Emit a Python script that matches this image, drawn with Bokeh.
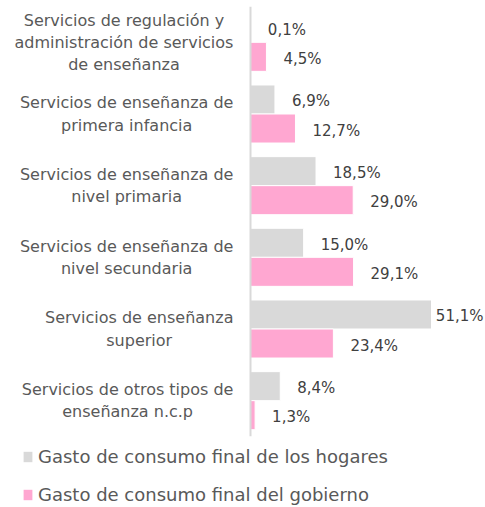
from bokeh.plotting import figure
from bokeh.models import ColumnDataSource, FactorRange, Range1d, Legend, LegendItem, Span
from bokeh.layouts import column
from bokeh.transform import dodge
from bokeh.core.properties import value
from bokeh.embed import file_html
from bokeh.resources import INLINE

categories = [
    "Servicios de regulación y\nadministración de servicios\nde enseñanza",
    "Servicios de enseñanza de\nprimera infancia",
    "Servicios de enseñanza de\nnivel primaria",
    "Servicios de enseñanza de\nnivel secundaria",
    "Servicios de enseñanza\nsuperior",
    "Servicios de otros tipos de\nenseñanza n.c.p",
]
hogares = [0.1, 6.9, 18.5, 15.0, 51.1, 8.4]
gobierno = [4.5, 12.7, 29.0, 29.1, 23.4, 1.3]
series_names = ["Gasto de consumo final de los hogares", "Gasto de consumo final del gobierno"]

FONT = "DejaVu Sans"
FONT_FILE = "DejaVuSans.ttf"
GRAY = "#D9D9D9"
PINK = "#FFA7D1"
CAT_SIZE = 16
VAL_SIZE = 15
LEG_SIZE = 18

W = 485
H1 = 440
FRAME_TOP = 6
FRAME_H = 430
AXIS_PX = 250          # screen x of the value axis inside the figure
PX_PER_PCT = 3.542
LABEL_GAP = 17         # px between bar end and its value label
CAT_GAP = 17           # px between category text and the axis

_fonts = {}
def text_w(s, size):
    try:
        from PIL import ImageFont
        if size not in _fonts:
            _fonts[size] = ImageFont.truetype(FONT_FILE, size)
        return _fonts[size].getlength(s)
    except Exception:
        return len(s) * 0.6 * size

def fmt(v):
    return f"{v:.1f}%".replace(".", ",")

x_min = -AXIS_PX / PX_PER_PCT
x_max = (W - AXIS_PX) / PX_PER_PCT

def label_pos(vals):
    xs = []
    for v in vals:
        w = text_w(fmt(v), VAL_SIZE)
        px = min(v * PX_PER_PCT + LABEL_GAP, (W - AXIS_PX) - w - 2)
        xs.append(px / PX_PER_PCT)
    return xs

src = ColumnDataSource(dict(
    cat=categories,
    hog=hogares,
    gob=gobierno,
    hog_lbl=[fmt(v) for v in hogares],
    gob_lbl=[fmt(v) for v in gobierno],
    hog_x=label_pos(hogares),
    gob_x=label_pos(gobierno),
    cat_off=[-(CAT_GAP + max(text_w(l, CAT_SIZE) for l in c.split("\n")) / 2) for c in categories],
))

p = figure(
    width=W, height=H1,
    y_range=FactorRange(factors=list(reversed(categories)), range_padding=0),
    x_range=Range1d(x_min, x_max),
    x_axis_location=None, y_axis_location=None,
    output_backend="svg", toolbar_location=None,
    min_border_left=0, min_border_right=0, min_border_top=FRAME_TOP,
    min_border_bottom=H1 - FRAME_H - FRAME_TOP,
)
p.outline_line_color = None
p.grid.visible = False

BAR_H = 0.405
r1 = p.hbar(y=dodge("cat", BAR_H / 2, range=p.y_range), right="hog", left=0, height=BAR_H,
            source=src, fill_color=GRAY, line_color="white", line_width=1)
r2 = p.hbar(y=dodge("cat", -BAR_H / 2, range=p.y_range), right="gob", left=0, height=BAR_H,
            source=src, fill_color=PINK, line_color="white", line_width=1)

p.add_layout(Span(location=0, dimension="height", line_color=GRAY, line_width=2))

p.text(x="hog_x", y=dodge("cat", BAR_H / 2, range=p.y_range), text="hog_lbl", source=src,
       text_baseline="middle", text_align="left", y_offset=2,
       text_font_size=f"{VAL_SIZE}px", text_color="#404040", text_font=value(FONT))
p.text(x="gob_x", y=dodge("cat", -BAR_H / 2, range=p.y_range), text="gob_lbl", source=src,
       text_baseline="middle", text_align="left", y_offset=2,
       text_font_size=f"{VAL_SIZE}px", text_color="#404040", text_font=value(FONT))

p.text(x=0, y="cat", text="cat", source=src, x_offset="cat_off",
       text_baseline="middle", text_align="center", text_line_height=1.17,
       text_font_size=f"{CAT_SIZE}px", text_color="#595959", text_font=value(FONT))

# legend panel
H2 = 66
p2 = figure(width=W, height=H2, x_range=Range1d(0, 1), y_range=Range1d(0, 1),
            x_axis_location=None, y_axis_location=None,
            output_backend="svg", toolbar_location=None,
            min_border_left=0, min_border_right=0, min_border_top=0, min_border_bottom=0)
p2.outline_line_color = None
p2.grid.visible = False
# swatch renderers for the legend (kept outside the visible range)
l1 = p2.hbar(y=[-5], right=[1], left=0, height=1, fill_color=GRAY, line_color=None)
l2 = p2.hbar(y=[-5], right=[1], left=0, height=1, fill_color=PINK, line_color=None)
legend = Legend(
    items=[LegendItem(label=series_names[0], renderers=[l1]),
           LegendItem(label=series_names[1], renderers=[l2])],
    location=(22, 1),
    orientation="vertical",
    border_line_color=None, background_fill_alpha=0,
    padding=0, margin=0, spacing=17,
    glyph_width=11, glyph_height=13, label_height=18, label_standoff=5,
    label_text_font=FONT, label_text_font_size=f"{LEG_SIZE}px", label_text_color="#595959",
)
p2.add_layout(legend, "center")

layout = column(p, p2, spacing=0)
open("out.html", "w").write(file_html(layout, INLINE))
